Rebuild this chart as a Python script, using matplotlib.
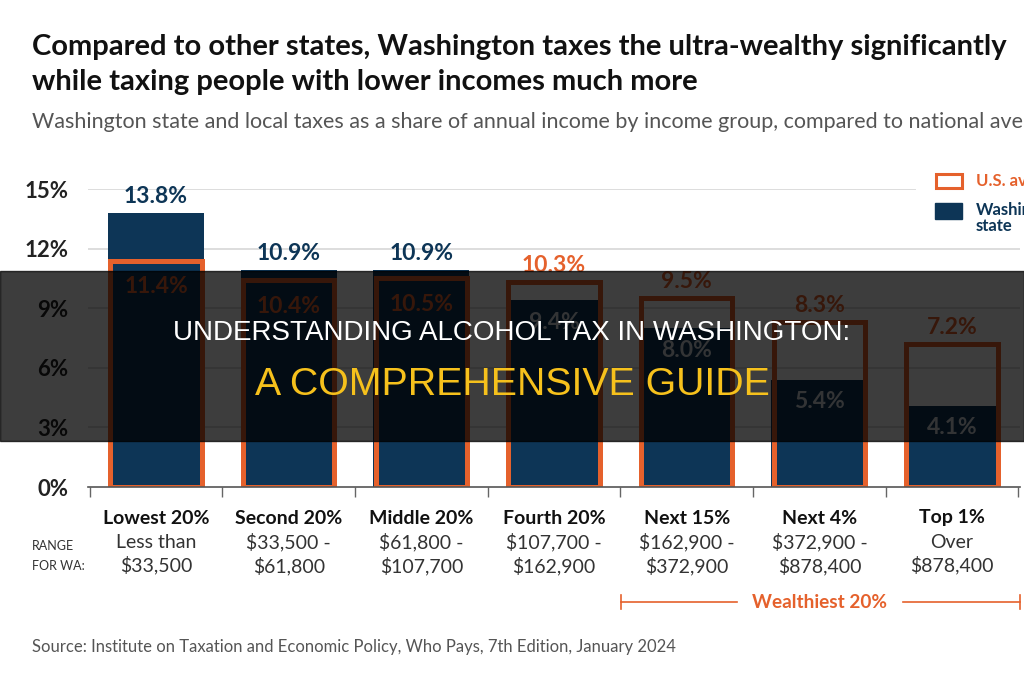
import matplotlib.pyplot as plt
from matplotlib.patches import Rectangle
from matplotlib.transforms import blended_transform_factory

# data
groups = ["Lowest 20%", "Second 20%", "Middle 20%", "Fourth 20%",
          "Next 15%", "Next 4%", "Top 1%"]
ranges = ["Less than\n$33,500", "$33,500 -\n$61,800", "$61,800 -\n$107,700",
          "$107,700 -\n$162,900", "$162,900 -\n$372,900", "$372,900 -\n$878,400",
          "Over\n$878,400"]
wa_share = [13.8, 10.9, 10.9, 9.4, 8.0, 5.4, 4.1]
us_share = [11.4, 10.4, 10.5, 10.3, 9.5, 8.3, 7.2]
yticks = [0, 3, 6, 9, 12, 15]

NAVY = "#0d3556"
ORANGE = "#e5612c"
FONT = "Lato"

plt.rcParams['font.family'] = [FONT, 'DejaVu Sans']

W, H = 1024, 680
fig = plt.figure(figsize=(W / 100, H / 100), dpi=100)


def fx(px):
    return px / W


def fy(py):
    return 1 - py / H


ax = fig.add_axes([fx(88), fy(487), fx(1020) - fx(88), fy(189) - fy(487)])
x = list(range(len(groups)))
ax.set_xlim(-0.5125, 6.512)
ax.set_ylim(0, 15)

bw = 0.724
ax.bar(x, wa_share, width=bw, color=NAVY, zorder=2)
ax.bar(x, us_share, width=bw - 0.037, fill=False, edgecolor=ORANGE,
       linewidth=3.6, zorder=3)

# gridlines
for t in yticks[1:]:
    xmax = 0.887 if t == 15 else 1.0
    ax.axhline(t, xmin=0, xmax=xmax, color="#dddddd", lw=1.4, zorder=0)

ax.set_yticks(yticks)
ax.set_yticklabels([f"{t}%" for t in yticks], fontsize=16, fontweight="bold",
                   color="#222222")
ax.tick_params(axis="y", length=0, pad=14)
ax.set_xticks([i - 0.5 for i in range(len(groups) + 1)])
ax.set_xticklabels([])
ax.tick_params(axis="x", length=7, width=1, color="#666666", direction="out")
for s in ["top", "right", "left"]:
    ax.spines[s].set_visible(False)
ax.spines["bottom"].set_color("#555555")
ax.spines["bottom"].set_linewidth(1.2)
ax.spines["bottom"].set_zorder(4)

# value labels
VS = 16.5
for i in x:
    wa, us = wa_share[i], us_share[i]
    if wa > us:
        ax.annotate(f"{wa}%", (i, wa), xytext=(0, 12), textcoords="offset points",
                    ha="center", va="center", fontsize=VS, fontweight="bold",
                    color=NAVY)
        ax.annotate(f"{us}%", (i, us), xytext=(0, -19), textcoords="offset points",
                    ha="center", va="center", fontsize=VS, fontweight="bold",
                    color=ORANGE, zorder=5)
    else:
        ax.annotate(f"{us}%", (i, us), xytext=(0, 12), textcoords="offset points",
                    ha="center", va="center", fontsize=VS, fontweight="bold",
                    color=ORANGE)
        ax.annotate(f"{wa}%", (i, wa), xytext=(0, -16), textcoords="offset points",
                    ha="center", va="center", fontsize=VS, fontweight="bold",
                    color="#d4d9df", zorder=5)

# category labels under the axis
tr = blended_transform_factory(ax.transData, fig.transFigure)
for i in x:
    fig.text(i, fy(518), groups[i], transform=tr, ha="center", va="center",
             fontsize=14, fontweight="bold", color="#111111")
    fig.text(i, fy(554), ranges[i], transform=tr, ha="center", va="center",
             fontsize=14, color="#333333", linespacing=1.3)
fig.text(fx(32), fy(556), "RANGE\nFOR WA:", ha="left", va="center",
         fontsize=9, color="#333333", linespacing=1.8)

# wealthiest 20% bracket
fig.add_artist(plt.Line2D([fx(621), fx(737)], [fy(602), fy(602)], color=ORANGE, lw=1.2))
fig.add_artist(plt.Line2D([fx(903), fx(1020)], [fy(602), fy(602)], color=ORANGE, lw=1.2))
for px in (621, 1020):
    fig.add_artist(plt.Line2D([fx(px), fx(px)], [fy(595), fy(609)], color=ORANGE, lw=1.2))
fig.text(fx(820), fy(602), "Wealthiest 20%", ha="center", va="center",
         fontsize=13.7, fontweight="bold", color=ORANGE)

# legend (runs off the right edge, as in the original crop)
fig.add_artist(Rectangle((fx(936), fy(188)), fx(26), fy(174) - fy(188),
                         transform=fig.transFigure, fill=False,
                         edgecolor=ORANGE, lw=2.2))
fig.add_artist(Rectangle((fx(935), fy(219)), fx(27), fy(203) - fy(219),
                         transform=fig.transFigure, color=NAVY))
fig.text(fx(976), fy(181), "U.S. average", ha="left", va="center",
         fontsize=12, fontweight="bold", color=ORANGE)
fig.text(fx(976), fy(218), "Washington\nstate", ha="left", va="center",
         fontsize=12, fontweight="bold", color=NAVY, linespacing=0.95)

# titles
fig.text(fx(32), fy(47), "Compared to other states, Washington taxes the ultra-wealthy significantly",
         ha="left", va="center", fontsize=21, fontweight="bold", color="#111111")
fig.text(fx(32), fy(82), "while taxing people with lower incomes much more",
         ha="left", va="center", fontsize=21, fontweight="bold", color="#111111")
fig.text(fx(32), fy(122), "Washington state and local taxes as a share of annual income by income group, compared to national average",
         ha="left", va="center", fontsize=15.5, color="#555555")
fig.text(fx(32), fy(647), "Source: Institute on Taxation and Economic Policy, Who Pays, 7th Edition, January 2024",
         ha="left", va="center", fontsize=12, color="#555555")

# dark banner with the article headline
fig.add_artist(Rectangle((0, fy(441)), 1, fy(271) - fy(441),
                         transform=fig.transFigure, color="black", alpha=0.76,
                         zorder=10))
fig.text(0.5, fy(333), "UNDERSTANDING ALCOHOL TAX IN WASHINGTON:", ha="center",
         va="center", fontsize=20, color="white", family="Liberation Sans",
         zorder=11)
fig.text(0.5, fy(385), "A COMPREHENSIVE GUIDE", ha="center", va="center",
         fontsize=28.3, color="#f6c11c", family="Liberation Sans", zorder=11)

fig.savefig("out.png", dpi=100)
